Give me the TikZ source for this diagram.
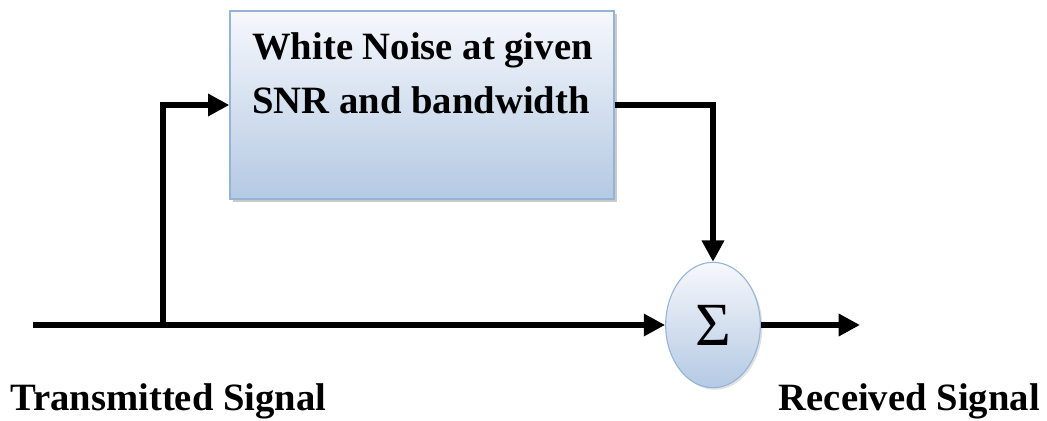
\documentclass[tikz,border=0pt]{standalone}
\usepackage{fontspec}
\setmainfont{Liberation Serif}
\usepackage{tikz}
\usetikzlibrary{arrows.meta,shapes.geometric,shadows,positioning}
\definecolor{boxedge}{HTML}{95B3D7}
\definecolor{boxtop}{HTML}{F6F8FC}
\definecolor{boxbot}{HTML}{B4C9E3}

\begin{document}
\begin{tikzpicture}
  [x=0.75pt,y=-0.75pt,
   noisebox/.style={rectangle,draw=boxedge,line width=1pt,top color=boxtop,bottom color=boxbot,
     minimum width=288pt,minimum height=141pt,inner sep=0pt,
     drop shadow={shadow xshift=2.5pt,shadow yshift=-2.5pt,fill=gray!70,opacity=.6}},
   sumnode/.style={ellipse,draw=boxedge,line width=.8pt,top color=boxtop,bottom color=boxbot,
     minimum width=71pt,minimum height=94pt,inner sep=0pt,
     drop shadow={shadow xshift=1.5pt,shadow yshift=-1.5pt,fill=gray!60,opacity=.4}},
   lbl/.style={inner sep=0pt,font=\fontsize{29}{41}\selectfont\bfseries},
   sig/.style={line width=4pt,-{Triangle[length=16pt,width=16pt]}}]

  \useasboundingbox (0,0) rectangle (1047,421);

  \node[noisebox] (noise) at (422,105) {};
  \node[lbl,anchor=north west,align=left] (noisetxt) at (252,32) {White Noise at given\\SNR and bandwidth};
  \node[sumnode] (sum) at (713,325) {\fontsize{46}{46}\selectfont Σ};

  \coordinate (tx) at (33,325);
  \coordinate (split) at (163,325);
  \coordinate (rx) at (860,325);

  \draw[line width=4pt] (tx) -- (split);
  \draw[sig] (split) -- (sum.west);
  \draw[sig] (split) |- (noise.west);
  \draw[sig] (noise.east) -| (sum.north);
  \draw[sig] (sum.east) -- (rx);

  \node[lbl,anchor=base west] (txlbl) at (10,410) {Transmitted Signal};
  \node[lbl,anchor=base east] (rxlbl) at (1040,410) {Received Signal};

\end{tikzpicture}
\end{document}
